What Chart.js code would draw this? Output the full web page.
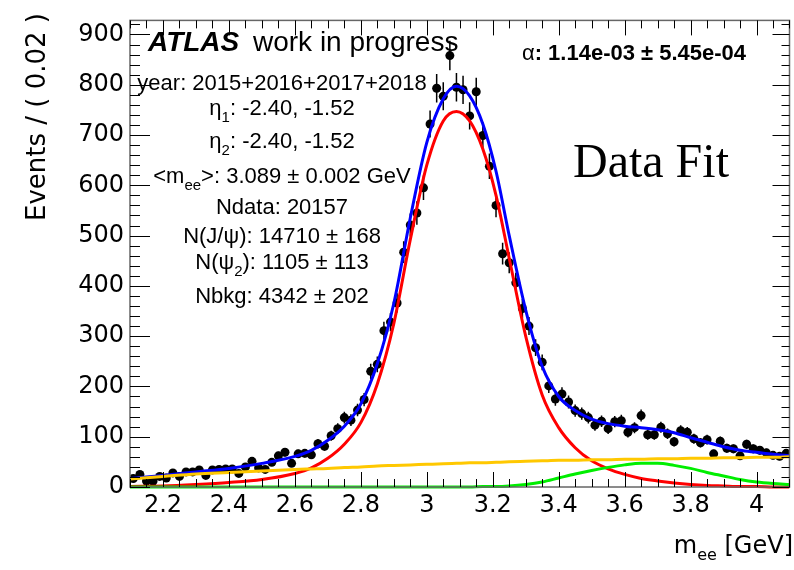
<!DOCTYPE html>
<html>
<head>
<meta charset="utf-8">
<script src="https://cdn.jsdelivr.net/npm/chart.js@4/dist/chart.umd.min.js"></script>
<style>
  html, body { margin: 0; padding: 0; background: #fff; overflow: hidden; }
</style>
</head>
<body>
<canvas id="fitChart" width="794" height="570"></canvas>
<script>
// bin centres of the 0.02 GeV mass bins
const massBins = [
  2.11, 2.13, 2.15, 2.17, 2.19, 2.21, 2.23, 2.25, 2.27, 2.29,
  2.31, 2.33, 2.35, 2.37, 2.39, 2.41, 2.43, 2.45, 2.47, 2.49,
  2.51, 2.53, 2.55, 2.57, 2.59, 2.61, 2.63, 2.65, 2.67, 2.69,
  2.71, 2.73, 2.75, 2.77, 2.79, 2.81, 2.83, 2.85, 2.87, 2.89,
  2.91, 2.93, 2.95, 2.97, 2.99, 3.01, 3.03, 3.05, 3.07, 3.09,
  3.11, 3.13, 3.15, 3.17, 3.19, 3.21, 3.23, 3.25, 3.27, 3.29,
  3.31, 3.33, 3.35, 3.37, 3.39, 3.41, 3.43, 3.45, 3.47, 3.49,
  3.51, 3.53, 3.55, 3.57, 3.59, 3.61, 3.63, 3.65, 3.67, 3.69,
  3.71, 3.73, 3.75, 3.77, 3.79, 3.81, 3.83, 3.85, 3.87, 3.89,
  3.91, 3.93, 3.95, 3.97, 3.99, 4.01, 4.03, 4.05, 4.07, 4.09
];
// events per bin
const events = [
  17, 25, 12, 12, 21, 18, 28, 21, 30, 30,
  34, 23, 34, 35, 36, 36, 27, 40, 51, 38,
  35, 49, 62, 69, 47, 66, 67, 64, 86, 81,
  102, 116, 138, 133, 153, 174, 230, 244, 311, 328,
  366, 467, 521, 545, 595, 722, 793, 777, 858, 795,
  790, 738, 786, 699, 638, 560, 464, 446, 406, 355,
  320, 277, 248, 201, 175, 185, 169, 152, 146, 138,
  123, 131, 116, 130, 132, 109, 118, 142, 104, 104,
  119, 106, 90, 112, 109, 96, 88, 94, 66, 91,
  77, 76, 62, 85, 76, 73, 68, 63, 61, 67
];

// fit curves at these masses
const curveMass = [2.10, 2.20, 2.30, 2.40, 2.50, 2.60, 2.65, 2.70, 2.75, 2.80,
  2.85, 2.90, 2.95, 3.00, 3.05, 3.09, 3.13, 3.17, 3.21, 3.25,
  3.30, 3.35, 3.40, 3.45, 3.50, 3.55, 3.60, 3.65, 3.70, 3.75,
  3.80, 3.85, 3.90, 3.95, 4.00, 4.05, 4.10];
const totalFit = [17, 23, 30, 37, 47, 61, 73, 93, 121, 165,
  245, 365, 535, 685, 772, 797, 778, 722, 628, 500,
  352, 240, 180, 152, 135, 126, 121, 118, 114, 108,
  98, 89, 80, 73, 69, 65, 62];
const jpsiFit = [1, 2, 5, 9, 15, 27, 38, 57, 85, 128,
  205, 325, 492, 640, 728, 747, 728, 672, 580, 455,
  300, 183, 118, 78, 52, 36, 25, 17, 12, 8,
  5, 3, 2, 1, 1, 0, 0];
const bkgFit = [16, 21, 26, 29, 32, 35, 36, 37, 39, 40,
  42, 43, 44, 45, 46, 47, 48, 48, 49, 50,
  51, 52, 53, 53, 54, 54, 55, 55, 56, 56,
  57, 57, 58, 58, 59, 59, 60];
const psi2Fit = [0, 0, 0, 0, 0, 0, 0, 0, 0, 0,
  0, 0, 0, 0, 0, 0, 0, 1, 1, 2,
  5, 10, 18, 26, 33, 39, 44, 47, 47, 43,
  37, 29, 22, 15, 10, 7, 5];

const xTicks = [2.2, 2.4, 2.6, 2.8, 3.0, 3.2, 3.4, 3.6, 3.8, 4.0];
const xTickLabels = ['2.2', '2.4', '2.6', '2.8', '3', '3.2', '3.4', '3.6', '3.8', '4'];
const yTicks = [0, 100, 200, 300, 400, 500, 600, 700, 800, 900];
const yTickLabels = ['0', '100', '200', '300', '400', '500', '600', '700', '800', '900'];

// fit summary box, [text, subscript?]
const infoLines = [
  [['year: 2015+2016+2017+2018']],
  [['η'], ['1', true], [': -2.40, -1.52']],
  [['η'], ['2', true], [': -2.40, -1.52']],
  [['<m'], ['ee', true], ['>: 3.089 ± 0.002 GeV']],
  [['Ndata: 20157']],
  [['N(J/ψ): 14710 ± 168']],
  [['N(ψ'], ['2', true], ['): 1105 ± 113']],
  [['Nbkg: 4342 ± 202']]
];
const infoBaselines = [90, 115, 148, 183, 214, 243, 269, 303];

const SANS = '"Liberation Sans", Arial, sans-serif';
const AXFONT = '"DejaVu Sans", sans-serif';

function curve(ys) {
  return curveMass.map((m, i) => ({ x: m, y: ys[i] }));
}

function drawParts(ctx, parts, cx, base, size, subSize, subDrop) {
  const w = parts.map(([t, sub]) => {
    ctx.font = (sub ? subSize : size) + 'px ' + SANS;
    return ctx.measureText(t).width;
  });
  let x = cx - w.reduce((a, b) => a + b, 0) / 2;
  parts.forEach(([t, sub], i) => {
    ctx.font = (sub ? subSize : size) + 'px ' + SANS;
    ctx.fillText(t, x, base + (sub ? subDrop : 0));
    x += w[i];
  });
}

const rootStyle = {
  id: 'rootStyle',
  beforeDatasetsDraw(chart) {
    // poisson error bars on the data
    const { ctx, chartArea: a } = chart;
    const xs = chart.scales.x, ys = chart.scales.y;
    ctx.save();
    ctx.beginPath();
    ctx.rect(a.left, a.top, a.right - a.left, a.bottom - a.top);
    ctx.clip();
    ctx.strokeStyle = '#000';
    ctx.lineWidth = 1.5;
    massBins.forEach((m, i) => {
      const err = Math.sqrt(events[i]);
      const px = xs.getPixelForValue(m);
      ctx.beginPath();
      ctx.moveTo(px, ys.getPixelForValue(events[i] - err));
      ctx.lineTo(px, ys.getPixelForValue(events[i] + err));
      ctx.stroke();
    });
    ctx.restore();
  },
  afterDraw(chart) {
    const { ctx, chartArea: a } = chart;
    const xs = chart.scales.x, ys = chart.scales.y;
    ctx.save();

    // frame
    ctx.strokeStyle = '#666';
    ctx.lineWidth = 1.5;
    ctx.strokeRect(a.left, a.top, a.right - a.left, a.bottom - a.top);

    // inward ticks on all four sides
    ctx.strokeStyle = '#000';
    ctx.lineWidth = 1;
    ctx.beginPath();
    for (let v = 2.1; v <= 4.1001; v += 0.05) {
      const px = Math.round(xs.getPixelForValue(v)) + 0.5;
      const major = xTicks.some(t => Math.abs(t - v) < 1e-6);
      const len = major ? 15 : 8;
      ctx.moveTo(px, a.bottom); ctx.lineTo(px, a.bottom - len);
      ctx.moveTo(px, a.top); ctx.lineTo(px, a.top + len);
    }
    for (let v = 0; v <= 928; v += 20) {
      const py = Math.round(ys.getPixelForValue(v)) + 0.5;
      const major = v % 100 === 0;
      ctx.moveTo(a.left, py); ctx.lineTo(a.left + (major ? 20 : 10), py);
      ctx.moveTo(a.right, py); ctx.lineTo(a.right - (major ? 17 : 8), py);
    }
    ctx.stroke();

    ctx.fillStyle = '#000';
    ctx.textAlign = 'left';
    ctx.textBaseline = 'alphabetic';

    // ATLAS label
    ctx.font = 'italic bold 28px ' + SANS;
    ctx.fillText('ATLAS', 148, 51);
    ctx.font = '28px ' + SANS;
    ctx.fillText('work in progress', 253, 51);

    // fit info
    infoLines.forEach((parts, i) => drawParts(ctx, parts, 282, infoBaselines[i], 22, 15, 7));

    // alpha
    ctx.font = '22px ' + SANS;
    const aw = ctx.measureText('α').width;
    ctx.font = 'bold 22px ' + SANS;
    const rest = ': 1.14e-03 ± 5.45e-04';
    const rw = ctx.measureText(rest).width;
    const ax = 634 - (aw + rw) / 2;
    ctx.font = '22px ' + SANS;
    ctx.fillText('α', ax, 60);
    ctx.font = 'bold 22px ' + SANS;
    ctx.fillText(rest, ax + aw, 60);

    // Data Fit
    ctx.font = '48px "Liberation Serif", "Times New Roman", serif';
    ctx.fillText('Data Fit', 573, 177);

    // x title
    ctx.font = '24px ' + AXFONT;
    const t1 = 'm', t3 = ' [GeV]';
    const w1 = ctx.measureText(t1).width, w3 = ctx.measureText(t3).width;
    ctx.font = '16px ' + AXFONT;
    const w2 = ctx.measureText('ee').width;
    const x0 = 793 - (w1 + w2 + w3);
    ctx.font = '24px ' + AXFONT;
    ctx.fillText(t1, x0, 553);
    ctx.font = '16px ' + AXFONT;
    ctx.fillText('ee', x0 + w1, 560);
    ctx.font = '24px ' + AXFONT;
    ctx.fillText(t3, x0 + w1 + w2, 553);

    // y title
    ctx.translate(45, 13);
    ctx.rotate(-Math.PI / 2);
    ctx.textAlign = 'right';
    ctx.font = '26px ' + AXFONT;
    ctx.fillText('Events / ( 0.02 )', 0, 0);

    ctx.restore();
  }
};

const lineSet = (label, ys, color, order) => ({
  type: 'line',
  label,
  data: curve(ys),
  borderColor: color,
  borderWidth: 3,
  pointRadius: 0,
  fill: false,
  cubicInterpolationMode: 'monotone',
  clip: { left: 0, top: 0, right: 0, bottom: 3 },
  order
});

new Chart(document.getElementById('fitChart').getContext('2d'), {
  type: 'scatter',
  data: {
    datasets: [
      {
        label: 'Data',
        data: massBins.map((m, i) => ({ x: m, y: events[i] })),
        pointRadius: 4.5,
        pointBackgroundColor: '#000',
        pointBorderColor: '#000',
        pointBorderWidth: 0,
        order: 10
      },
      lineSet('Total fit', totalFit, '#0000ff', 5),
      lineSet('J/psi', jpsiFit, '#ff0000', 4),
      lineSet('Background', bkgFit, '#ffc800', 3),
      lineSet('psi2', psi2Fit, '#00ee00', 2)
    ]
  },
  options: {
    responsive: false,
    devicePixelRatio: 1,
    animation: false,
    layout: { padding: { top: 11, left: 0, right: 0, bottom: 0 } },
    plugins: { legend: { display: false }, tooltip: { enabled: false } },
    scales: {
      x: {
        type: 'linear',
        min: 2.1,
        max: 4.1,
        grid: { display: false, drawTicks: false },
        border: { display: false },
        afterBuildTicks: s => { s.ticks = xTicks.map(v => ({ value: v })); },
        afterFit: s => { s.height = 83; },
        ticks: {
          callback: (v, i) => xTickLabels[i],
          font: { family: 'DejaVu Sans', size: 24 },
          color: '#000',
          padding: 4,
          maxRotation: 0,
          autoSkip: false
        }
      },
      y: {
        min: 0,
        max: 928,
        grid: { display: false, drawTicks: false },
        border: { display: false },
        afterBuildTicks: s => { s.ticks = yTicks.map(v => ({ value: v })); },
        afterFit: s => { s.width = 130; },
        ticks: {
          callback: (v, i) => yTickLabels[i],
          font: { family: 'DejaVu Sans', size: 24 },
          color: '#000',
          padding: 6,
          autoSkip: false
        }
      }
    }
  },
  plugins: [rootStyle]
});
</script>
</body>
</html>
